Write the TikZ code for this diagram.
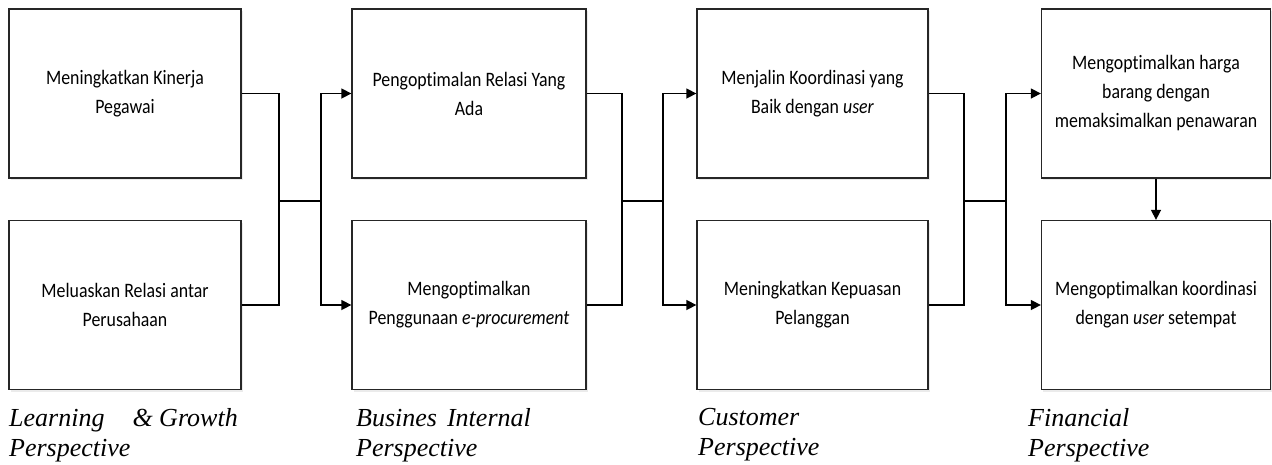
\documentclass[tikz,border=0pt]{standalone}
\usepackage{fontspec}
\setmainfont{Carlito}[FakeStretch=0.87,Ligatures={NoCommon,NoRare,NoDiscretionary}]
\newfontfamily\lblfont{Liberation Serif}
\usetikzlibrary{arrows.meta,shadows}
\begin{document}
\begin{tikzpicture}[x=1pt,y=-1pt,
  box/.style={draw=black!85,line width=1.3pt,fill=white,rectangle,inner sep=0pt,
    minimum height=169pt,align=center,
    font=\fontsize{20.5}{29}\selectfont,
    drop shadow={shadow xshift=1.5pt,shadow yshift=-2pt,fill=black!8,opacity=1}},
  conn/.style={line width=1.5pt,black},
  arr/.style={conn,-{Triangle[length=10pt,width=10pt]}},
  persp/.style={anchor=north west,align=left,inner sep=0pt,
    font=\lblfont\itshape\fontsize{26}{30}\selectfont}]
\useasboundingbox (0,0) rectangle (1272,464);
\fill[white] (0,0) rectangle (1272,464);
% boxes
\node[box,minimum width=232pt] (a1) at (125,93.5) {Meningkatkan Kinerja\\Pegawai};
\node[box,minimum width=232pt] (a2) at (125,305) {Meluaskan Relasi antar\\Perusahaan};
\node[box,minimum width=234pt] (b1) at (469,93.5) {Pengop{}timalan Relasi Yang\\Ada};
\node[box,minimum width=234pt] (b2) at (469,305) {Mengop{}timalkan\\Penggunaan \textit{e-procurement}};
\node[box,minimum width=231pt] (c1) at (812.5,93.5) {Menjalin Koordinasi yang\\Baik dengan \textit{user}};
\node[box,minimum width=231pt] (c2) at (812.5,305) {Meningkatkan Kepuasan\\Pelanggan};
\node[box,minimum width=229pt] (d1) at (1156,93.5) {Mengop{}timalkan harga\\barang dengan\\memaksimalkan penawaran};
\node[box,minimum width=229pt] (d2) at (1156,305) {Mengop{}timalkan koordinasi\\dengan \textit{user} setempat};
% junction coordinates
\coordinate (j1a) at (279,201);
\coordinate (j1b) at (321,201);
\coordinate (j2a) at (622,201);
\coordinate (j2b) at (663,201);
\coordinate (j3a) at (964,201);
\coordinate (j3b) at (1006,201);
% connectors col1 -> col2
\draw[conn] (a1.east) -| (j1a) |- (a2.east);
\draw[conn] (j1a) -- (j1b);
\draw[arr] (j1b) |- (b1.west);
\draw[arr] (j1b) |- (b2.west);
% col2 -> col3
\draw[conn] (b1.east) -| (j2a) |- (b2.east);
\draw[conn] (j2a) -- (j2b);
\draw[arr] (j2b) |- (c1.west);
\draw[arr] (j2b) |- (c2.west);
% col3 -> col4
\draw[conn] (c1.east) -| (j3a) |- (c2.east);
\draw[conn] (j3a) -- (j3b);
\draw[arr] (j3b) |- (d1.west);
\draw[arr] (j3b) |- (d2.west);
% vertical in col4
\draw[arr] (d1.south) -- (d2.north);
% perspective labels
\node[persp] (l1) at (9,408) {Learning\hspace{28pt}\& Growth\\Perspective};
\node[persp] (l2) at (356,408) {Busines\hspace{10pt}Internal\\Perspective};
\node[persp] (l3) at (698,408) {Customer\\Perspective};
\node[persp] (l4) at (1028,408) {Financial\\Perspective};
\end{tikzpicture}
\end{document}
